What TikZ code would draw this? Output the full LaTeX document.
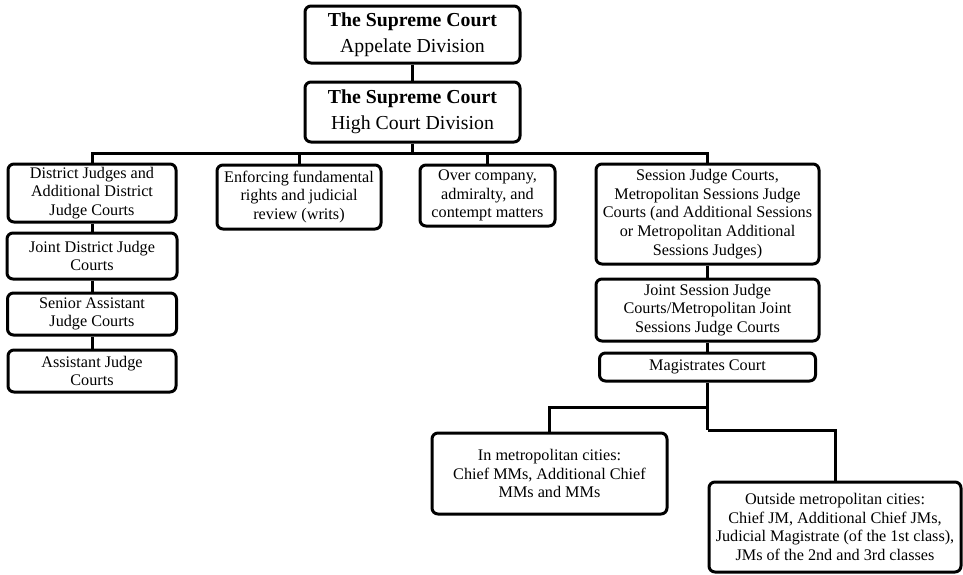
\documentclass[tikz,border=0pt]{standalone}
\usepackage{fontspec}
\setmainfont{Liberation Serif}
\usetikzlibrary{positioning}

\begin{document}
\begin{tikzpicture}[
          x=1pt,y=-1pt,
          court/.style={draw,line width=3pt,rounded corners=6pt,align=center,inner sep=0pt,
            font=\fontsize{16.2}{18.6}\selectfont},
          supreme/.style={court,minimum width=215pt,font=\fontsize{19.8}{26}\selectfont},
          link/.style={line width=3pt}
        ]
        \useasboundingbox (0,0) rectangle (963,574);
        % supreme court
        \node[supreme,minimum height=57pt] (appellate) at (412.5,34.5) {\textbf{The Supreme Court}\\Appelate Division};
        \node[supreme,minimum height=60pt] (highcourt) at (412.5,112) {\textbf{The Supreme Court}\\High Court Division};
        % civil side
        \node[court,minimum width=168pt,minimum height=58pt] (district) at (92,193) {District Judges and\\Additional District\\Judge Courts};
        \node[court,minimum width=170pt,minimum height=46pt] (jointdist) at (92,256) {Joint District Judge\\Courts};
        \node[court,minimum width=169pt,minimum height=42pt] (senior) at (92,314) {Senior Assistant\\Judge Courts};
        \node[court,minimum width=168pt,minimum height=42pt] (assistant) at (92,371) {Assistant Judge\\Courts};
        % high court jurisdiction
        \node[court,minimum width=164pt,minimum height=64pt] (writs) at (299,197) {Enforcing fundamental\\rights and judicial\\review (writs)};
        \node[court,minimum width=135pt,minimum height=61pt] (company) at (487.5,195.5) {Over company,\\admiralty, and\\contempt matters};
        % criminal side
        \node[court,minimum width=223pt,minimum height=100pt] (sessions) at (707.5,214) {Session Judge Courts,\\Metropolitan Sessions Judge\\Courts (and Additional Sessions\\or Metropolitan Additional\\Sessions Judges)};
        \node[court,minimum width=223pt,minimum height=62pt] (jointsess) at (707.5,310) {Joint Session Judge\\Courts/Metropolitan Joint\\Sessions Judge Courts};
        \node[court,minimum width=216pt,minimum height=28pt] (magistrates) at (707.5,367) {Magistrates Court};
        \node[court,minimum width=235pt,minimum height=81pt] (metro) at (549.5,473.5) {In metropolitan cities:\\Chief MMs, Additional Chief\\MMs and MMs};
        \node[court,minimum width=252pt,minimum height=90pt] (outside) at (835,527) {Outside metropolitan cities:\\Chief JM, Additional Chief JMs,\\Judicial Magistrate (of the 1st class),\\JMs of the 2nd and 3rd classes};

        \coordinate (bus) at (412.5,153);
        \coordinate (magsplit) at (707.5,407);
        \coordinate (magbend) at (707.5,430);

        \draw[link] (appellate) -- (highcourt);
        \draw[link] (highcourt) -- (bus);
        \draw[link] (district.north) |- (bus);
        \draw[link] (sessions.north) |- (bus);
        \draw[link] (writs.north) |- (bus);
        \draw[link] (company.north) |- (bus);
        \draw[link] (district) -- (jointdist);
        \draw[link] (jointdist) -- (senior);
        \draw[link] (senior) -- (assistant);
        \draw[link] (sessions) -- (jointsess);
        \draw[link] (jointsess) -- (magistrates);
        \draw[link] (magistrates) -- (magbend);
        \draw[link] (metro.north) |- (magsplit);
        \draw[link] (magbend) -| (outside.north);
      \end{tikzpicture}
\end{document}
